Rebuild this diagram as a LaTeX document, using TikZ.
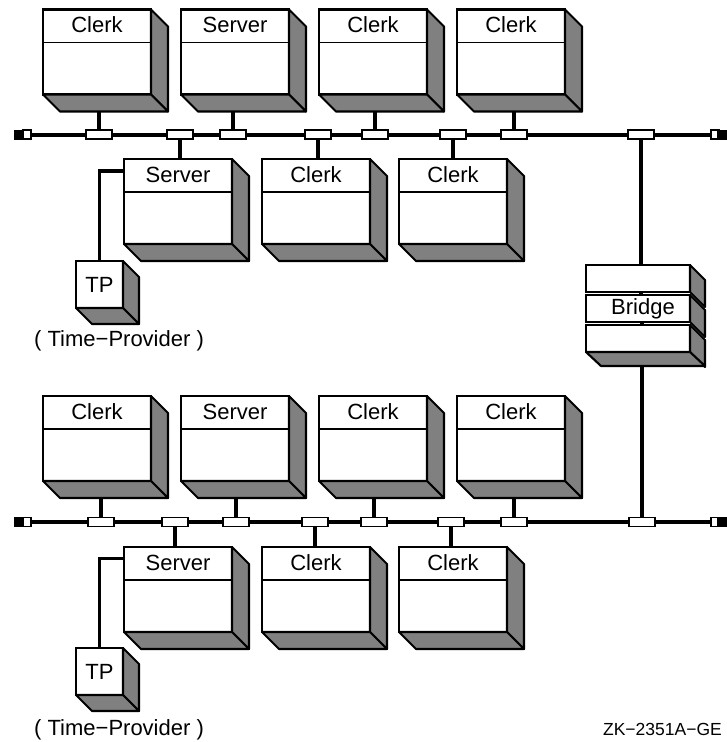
\documentclass[tikz,border=0pt]{standalone}
\usepackage{fontspec}
\setmainfont{Liberation Sans}
\usetikzlibrary{calc,backgrounds}
\definecolor{shadegray}{HTML}{808080}
\tikzset{
  front/.style={draw=black, fill=white, line width=2.1pt, inner sep=0pt, outer sep=0pt, anchor=north west},
  face/.style={fill=shadegray, draw=black, line width=2.1pt, line join=round},
  hdrline/.style={line width=1.4pt},
  lbl/.style={font=\fontsize{22}{24}\selectfont, anchor=base, inner sep=0pt},
  tapbox/.style={draw=black, fill=white, line width=1.7pt, minimum width=26pt, minimum height=9pt, inner sep=0pt, outer sep=0pt},
  termblk/.style={draw=black, fill=black, line width=1pt, minimum width=9pt, minimum height=9pt, inner sep=0pt, outer sep=0pt},
  termwht/.style={draw=black, fill=white, line width=1.7pt, minimum width=8pt, minimum height=9pt, inner sep=0pt, outer sep=0pt},
  bus/.style={line width=4pt},
  stub/.style={line width=3.4pt},
}
\newcommand{\cubeshape}[6]{%
  \node[front, minimum width=#4pt, minimum height=#5pt] (#1) at (#2,#3) {};
  \filldraw[face] (#1.north east) -- ++(#6,#6) -- ++(0,#5) -- (#1.south east) -- cycle;
  \filldraw[face] (#1.south west) -- (#1.south east) -- ++(#6,#6) -- ($(#1.south west)+(#6,#6)$) -- cycle;
}
\newcommand{\devbox}[4]{%
  \cubeshape{#1}{#2}{#3}{108}{85}{17}
  \draw[hdrline] ($(#1.north west)+(0,33)$) -- ($(#1.north east)+(0,33)$);
  \node[lbl] (#1-t) at ($(#1.north)+(0,23)$) {#4};
}
\newcommand{\bridgebox}[3]{%
  \node[front, minimum width=104pt, minimum height=27pt] (#1) at (#2,#3) {};
  \filldraw[face] (#1.north east) -- ++(15,15) -- ++(0,27) -- (#1.south east) -- cycle;
}
\begin{document}
\begin{tikzpicture}[x=1pt,y=-1pt]
\useasboundingbox (0,0) rectangle (726,742);

% ---------- upper segment ----------
\devbox{ua1}{43}{9.5}{Clerk}
\devbox{ua2}{181}{9.5}{Server}
\devbox{ua3}{319}{9.5}{Clerk}
\devbox{ua4}{457}{9.5}{Clerk}
\devbox{ub1}{124}{159}{Server}
\devbox{ub2}{262}{159}{Clerk}
\devbox{ub3}{399}{159}{Clerk}

\cubeshape{utp}{76}{261}{47}{47}{16}
\node[lbl] (utp-t) at ($(utp.north)+(0,31)$) {TP};
\node[lbl] (utpn) at (119,346.5) {( Time−Provider )};
\draw[stub] ($(ub1.north west)+(0,12)$) -| (utp.north);

\node[termblk] (ulb) at (18.5,134.5) {};
\node[termwht] (ulw) at (27,134.5) {};
\node[termwht] (urw) at (715,134.5) {};
\node[termblk] (urb) at (722,134.5) {};

\node[tapbox] (ut1) at (99,134.5) {};
\node[tapbox] (ut2) at (180,134.5) {};
\node[tapbox] (ut3) at (233,134.5) {};
\node[tapbox] (ut4) at (318,134.5) {};
\node[tapbox] (ut5) at (375,134.5) {};
\node[tapbox] (ut6) at (453,134.5) {};
\node[tapbox] (ut7) at (514,134.5) {};
\node[tapbox] (ut8) at (641,134.5) {};

% ---------- bridge ----------
\bridgebox{br1}{586}{265}
\bridgebox{br2}{586}{295}
\bridgebox{br3}{586}{325}
\filldraw[face] (br3.south west) -- (br3.south east) -- ++(15,14) -- ($(br3.south west)+(15,14)$) -- cycle;
\node[lbl] (br2-t) at ($(br2.north)+(5,19.5)$) {Bridge};

% ---------- lower segment ----------
\devbox{la1}{43}{396}{Clerk}
\devbox{la2}{181}{396}{Server}
\devbox{la3}{319}{396}{Clerk}
\devbox{la4}{457}{396}{Clerk}
\devbox{lb1}{124}{547}{Server}
\devbox{lb2}{262}{547}{Clerk}
\devbox{lb3}{399}{547}{Clerk}

\cubeshape{ltp}{76}{648}{47}{47}{16}
\node[lbl] (ltp-t) at ($(ltp.north)+(0,31)$) {TP};
\node[lbl] (ltpn) at (119,735.5) {( Time−Provider )};
\draw[stub] ($(lb1.north west)+(0,11.5)$) -| (ltp.north);

\node[termblk] (llb) at (18.5,522) {};
\node[termwht] (llw) at (27,522) {};
\node[termwht] (lrw) at (715,522) {};
\node[termblk] (lrb) at (722,522) {};

\node[tapbox] (lt1) at (101,522) {};
\node[tapbox] (lt2) at (175,522) {};
\node[tapbox] (lt3) at (236,522) {};
\node[tapbox] (lt4) at (315,522) {};
\node[tapbox] (lt5) at (374,522) {};
\node[tapbox] (lt6) at (451,522) {};
\node[tapbox] (lt7) at (514,522) {};
\node[tapbox] (lt8) at (642,522) {};

\node[font=\fontsize{17.5}{20}\selectfont, anchor=base east, inner sep=0pt] (zk) at (722,735) {ZK−2351A−GE};

% ---------- buses and stubs behind ----------
\begin{pgfonlayer}{background}
\draw[bus] (ulw.center) -- (urw.center);
\draw[stub] (ut1.center) -- (ut1 |- ua1.center);
\draw[stub] (ut2.center) -- (ut2 |- ub1.center);
\draw[stub] (ut3.center) -- (ut3 |- ua2.center);
\draw[stub] (ut4.center) -- (ut4 |- ub2.center);
\draw[stub] (ut5.center) -- (ut5 |- ua3.center);
\draw[stub] (ut6.center) -- (ut6 |- ub3.center);
\draw[stub] (ut7.center) -- (ut7 |- ua4.center);
\draw[stub] (ut8.center) -- (ut8 |- br2.center);

\draw[bus] (llw.center) -- (lrw.center);
\draw[stub] (lt1.center) -- (lt1 |- la1.center);
\draw[stub] (lt2.center) -- (lt2 |- lb1.center);
\draw[stub] (lt3.center) -- (lt3 |- la2.center);
\draw[stub] (lt4.center) -- (lt4 |- lb2.center);
\draw[stub] (lt5.center) -- (lt5 |- la3.center);
\draw[stub] (lt6.center) -- (lt6 |- lb3.center);
\draw[stub] (lt7.center) -- (lt7 |- la4.center);
\draw[stub] (lt8.center) -- (lt8 |- br2.center);
\end{pgfonlayer}
\end{tikzpicture}
\end{document}
